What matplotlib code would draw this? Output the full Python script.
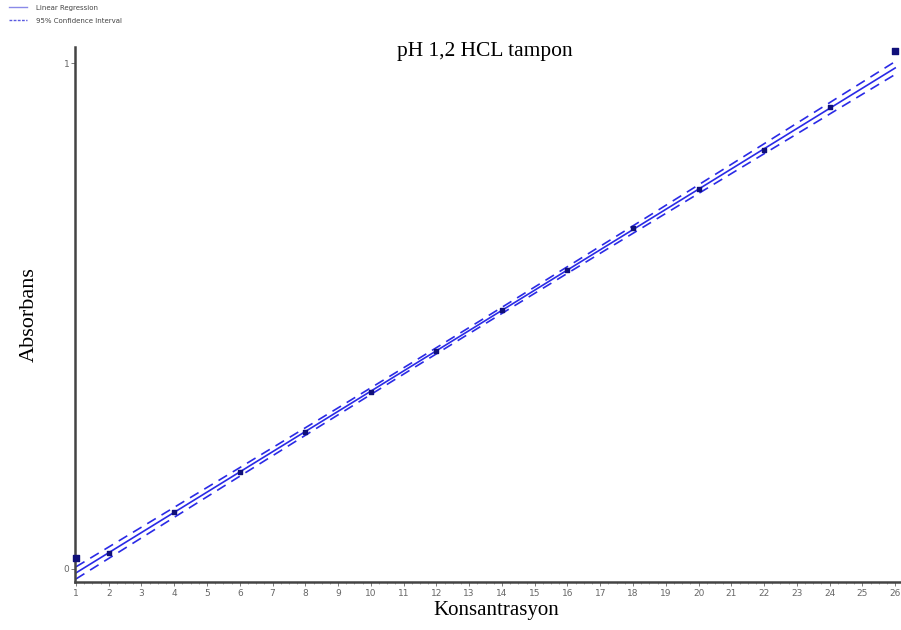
import matplotlib.pyplot as plt
import numpy as np
from matplotlib.lines import Line2D

# concentration / absorbance readings
konsantrasyon = [2, 4, 6, 8, 10, 12, 14, 16, 18, 20, 22, 24]
absorbans = [0.032, 0.113, 0.192, 0.271, 0.350, 0.431, 0.512, 0.591, 0.674, 0.751, 0.828, 0.913]
# standalone end markers
end_x = [1, 26]
end_y = [0.022, 1.024]
x_ticks = list(range(1, 27))
y_ticks = [0, 1]
resid_se = 0.0093   # residual standard error used for the band
t_crit = 2.228      # t(0.975, n-2)

x = np.array(konsantrasyon, dtype=float)
y = np.array(absorbans)
slope, intercept = np.polyfit(x, y, 1)
xs = np.linspace(1, 26, 200)
fit = slope * xs + intercept
sxx = np.sum((x - x.mean()) ** 2)
half = t_crit * resid_se * np.sqrt(1 / len(x) + (xs - x.mean()) ** 2 / sxx)

fig = plt.figure(figsize=(9.01, 6.30), dpi=100)
ax = fig.add_axes([0.0832, 0.0762, 0.9158, 0.8488])

line_c = '#2a2ae6'
ax.plot(xs, fit, color=line_c, lw=1.2)
ax.plot(xs, fit + half, color=line_c, lw=1.2, ls=(0, (6, 4)))
ax.plot(xs, fit - half, color=line_c, lw=1.2, ls=(0, (6, 4)))
ax.scatter(konsantrasyon, absorbans, marker='s', s=12, color='#10107a', zorder=3)
ax.scatter(end_x, end_y, marker='s', s=22, color='#10107a', zorder=3, clip_on=False)

ax.set_xlim(0.97, 26.15)
ax.set_ylim(-0.026, 1.032)
ax.set_xticks(x_ticks)
ax.set_xticklabels([str(t) for t in x_ticks])
ax.set_xticks(np.arange(1, 26.01, 0.25), minor=True)
ax.set_yticks(y_ticks)
ax.tick_params(axis='both', labelsize=6.5, colors='#666666', length=3, width=0.6)
ax.tick_params(axis='x', which='minor', length=1.5, width=0.5, colors='#888888')
ax.tick_params(axis='x', pad=2)
ax.tick_params(axis='y', pad=1)
for s in ['top', 'right']:
    ax.spines[s].set_visible(False)
for s in ['left', 'bottom']:
    ax.spines[s].set_color('#444444')
    ax.spines[s].set_linewidth(1.8)

fig.text(0.538, 0.919, 'pH 1,2 HCL tampon', ha='center', va='center',
         family='Liberation Serif', fontsize=15.5)
ax.set_xlabel('Konsantrasyon', family='Liberation Serif', fontsize=15, labelpad=0)
ax.xaxis.set_label_coords(0.51, -0.036)
ax.set_ylabel('Absorbans', family='Liberation Serif', fontsize=16, labelpad=18)

# legend in the top-left corner of the figure
handles = [Line2D([], [], color='#8a8ae8', lw=1),
           Line2D([], [], color='#5a5ae0', lw=1, ls=(0, (2, 1)))]
fig.legend(handles, ['Linear Regression', '95% Confidence Interval'], loc='upper left',
           bbox_to_anchor=(0.005, 1.0), frameon=False, fontsize=5, handlelength=2.6,
           labelcolor='#444444', borderaxespad=0.3, labelspacing=1.0, handletextpad=1.2)

fig.savefig('out.png', dpi=100)
